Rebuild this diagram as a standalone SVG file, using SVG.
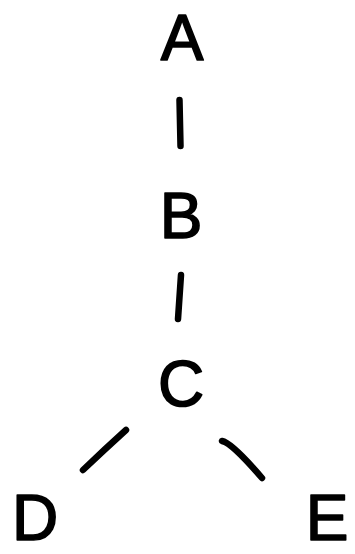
<svg xmlns="http://www.w3.org/2000/svg" width="355" height="554" viewBox="0 0 355 554">
<style>
.lbl{font-family:"Liberation Sans","DejaVu Sans",sans-serif;font-size:64px;fill:#000;text-anchor:middle;stroke:#000;stroke-width:1.6;stroke-linejoin:round}
.edge{fill:none;stroke:#000;stroke-width:6.5;stroke-linecap:round;stroke-linejoin:round}
</style>
<rect width="355" height="554" fill="#fff"/>
<g id="connectors">
<path class="edge" d="M179.5,100 L180.5,146"/>
<path class="edge" d="M181,275 L178,319"/>
<path class="edge" d="M126,430 Q105,449 83,470"/>
<path class="edge" d="M222,441 Q232,443 262,478"/>
</g>
<g id="node-A"><text class="lbl" x="182" y="60">A</text></g>
<g id="node-B"><text class="lbl" x="181" y="238">B</text></g>
<g id="node-C"><text class="lbl" x="181" y="406">C</text></g>
<g id="node-D"><text class="lbl" x="35" y="540">D</text></g>
<g id="node-E"><text class="lbl" x="327" y="540">E</text></g>
</svg>
